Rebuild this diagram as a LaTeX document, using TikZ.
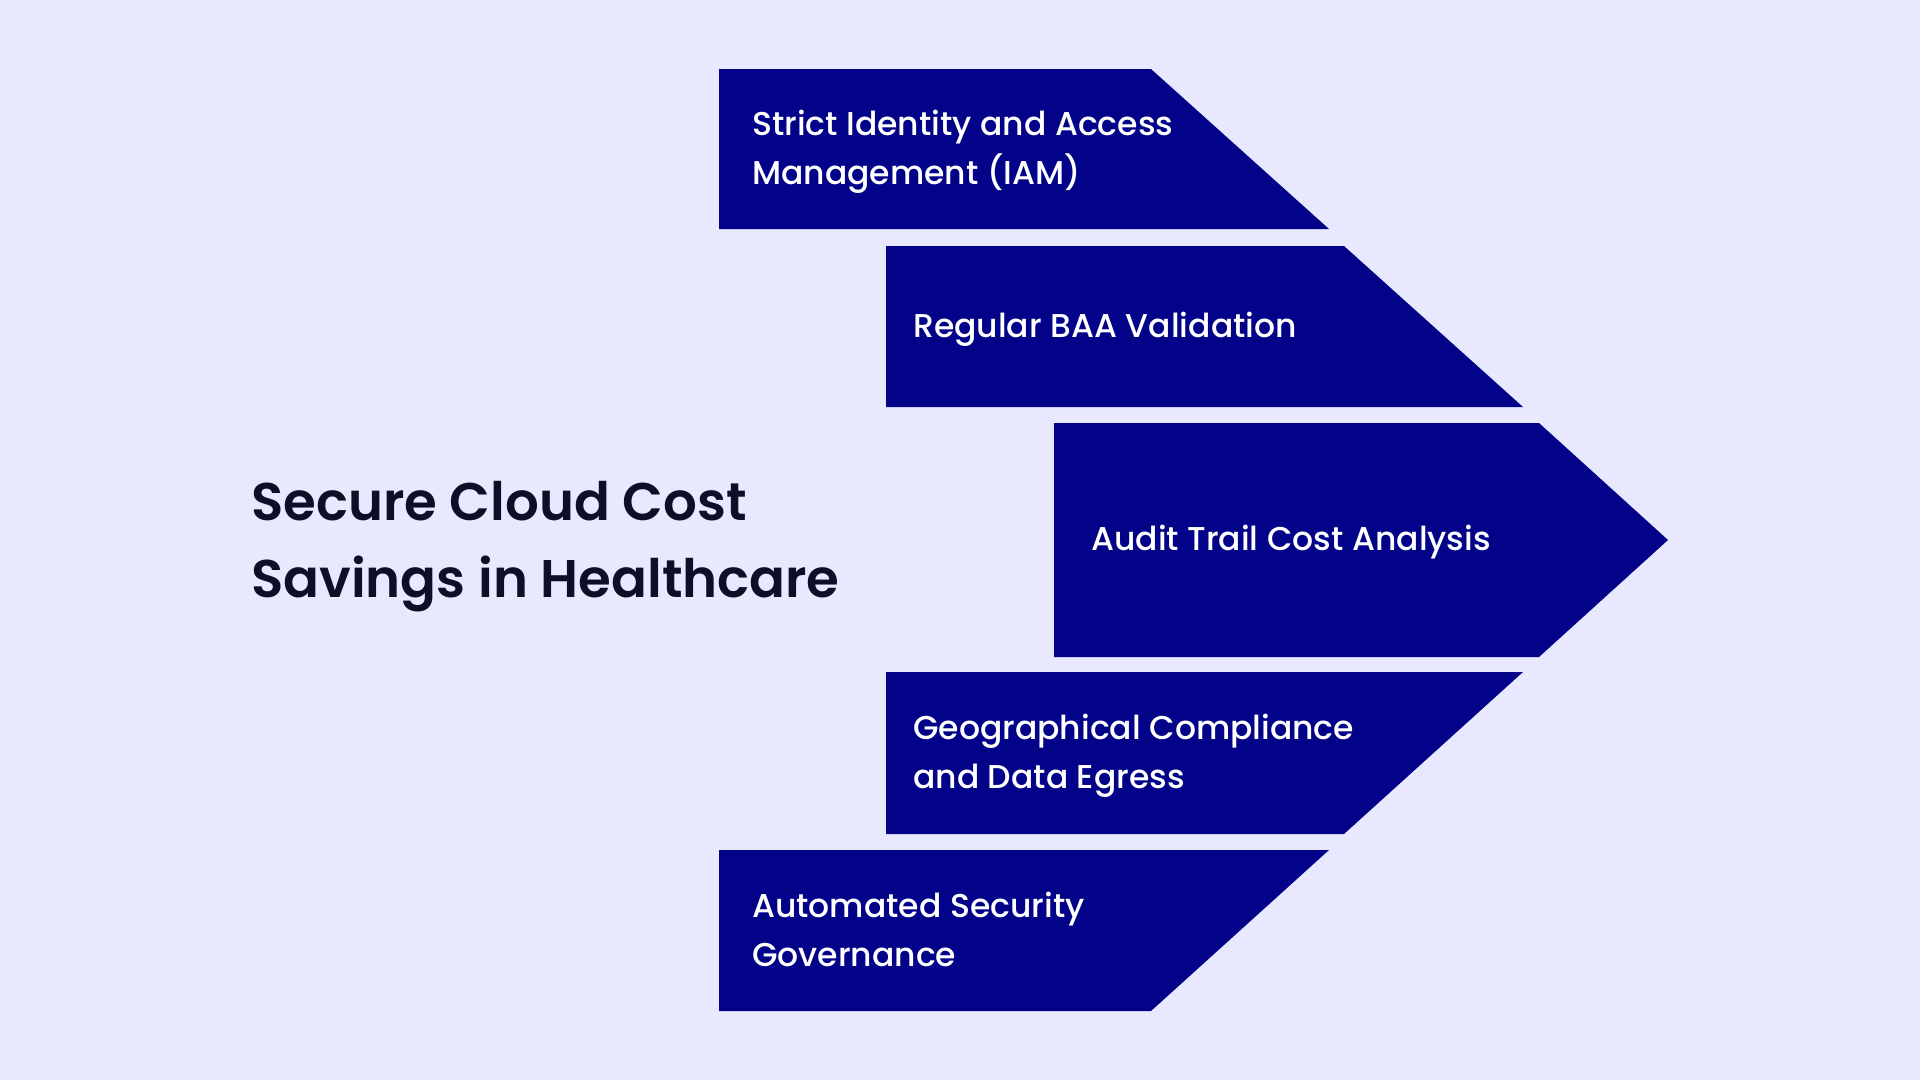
\documentclass[tikz,border=0pt]{standalone}
\usepackage{fontspec}
\setmainfont{Poppins}
\newfontfamily\bandfont{Poppins Medium}
\newfontfamily\headfont{Poppins SemiBold}
\usetikzlibrary{positioning}
\definecolor{bgcol}{RGB}{232,233,254}
\definecolor{navyfill}{RGB}{3,3,137}
\definecolor{titleink}{RGB}{14,15,38}

\begin{document}
\begin{tikzpicture}[x=1pt,y=-1pt,
  band/.style={fill=navyfill},
  bandtext/.style={anchor=west,align=left,text=white,inner sep=0pt,
    font=\bandfont\fontsize{33}{49}\selectfont},
  headline/.style={anchor=west,align=left,text=titleink,inner sep=0pt,
    font=\headfont\fontsize{53}{77}\selectfont}]
  \fill[bgcol] (0,0) rectangle (1920,1080);
  \useasboundingbox (0,0) rectangle (1920,1080);

  % the five bands, widest in the middle
  \fill[band] (719,69) -- (1151,69) -- (1329,229) -- (719,229) -- cycle;
  \fill[band] (886,246) -- (1344,246) -- (1523,407) -- (886,407) -- cycle;
  \fill[band] (1054,423) -- (1539,423) -- (1668,540) -- (1539,657) -- (1054,657) -- cycle;
  \fill[band] (886,672) -- (1523,672) -- (1344,834) -- (886,834) -- cycle;
  \fill[band] (719,850) -- (1329,850) -- (1151,1011) -- (719,1011) -- cycle;

  \node[bandtext] (iam) at (752,152) {Strict Identity and Access\\Management (IAM)};
  \node[bandtext] (baa) at (913,329) {Regular BAA Validation};
  \node[bandtext] (audit) at (1091,542) {Audit Trail Cost Analysis};
  \node[bandtext] (geo) at (913,756) {Geographical Compliance\\and Data Egress};
  \node[bandtext] (gov) at (752,929) {Automated Security\\Governance};

  \node[headline] (title) at (251,547) {Secure Cloud Cost\\Savings in Healthcare};
\end{tikzpicture}
\end{document}
